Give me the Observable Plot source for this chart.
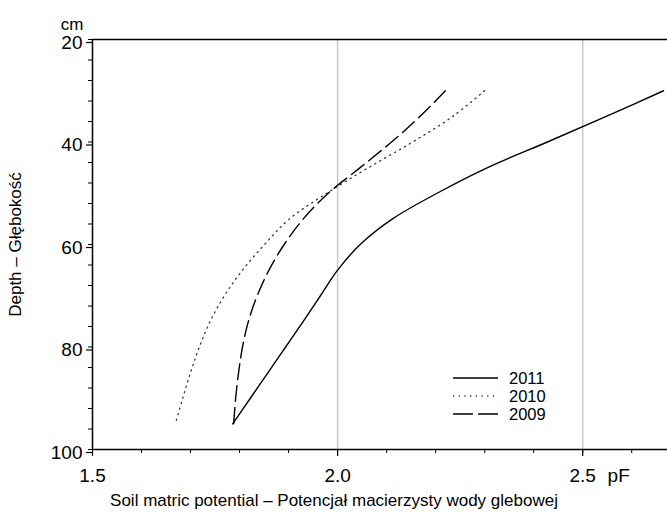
<!DOCTYPE html>
<html>
<head>
<meta charset="utf-8">
<script src="https://cdn.jsdelivr.net/npm/d3@7"></script>
<script src="https://cdn.jsdelivr.net/npm/@observablehq/plot@0.6"></script>
<style>
  html, body { margin: 0; padding: 0; background: #fff; }
  #wrap { position: relative; width: 667px; height: 517px; font-family: "Liberation Sans", Arial, sans-serif; }
  #legend { position: absolute; left: 0; top: 0; }
</style>
</head>
<body>
<div id="wrap"></div>
<script>
// Depth (cm) at which pF values were read
const depth = [30, 35, 40, 45, 50, 55, 60, 65, 70, 75, 80, 85, 90, 95];
// Soil matric potential (pF) per year
const pf2011 = [2.665, 2.548, 2.428, 2.306, 2.203, 2.112, 2.046, 2.0, 1.965, 1.93, 1.894, 1.858, 1.822, 1.786];
const pf2010 = [2.30, 2.235, 2.153, 2.063, 1.978, 1.902, 1.851, 1.806, 1.769, 1.740, 1.718, 1.70, 1.684, 1.669];
const pf2009 = [2.22, 2.168, 2.110, 2.046, 1.981, 1.930, 1.891, 1.860, 1.836, 1.818, 1.806, 1.798, 1.792, 1.788];
const years = ["2011", "2010", "2009"];
const yTicks = [20, 40, 60, 80, 100];
const xTicks = [1.5, 2.0, 2.5];
const xTitle = "Soil matric potential – Potencjał macierzysty wody glebowej";
const yTitle = "Depth – Głębokość";
const yUnit = "cm";
const xUnit = "pF";

const seriesValues = {"2011": pf2011, "2010": pf2010, "2009": pf2009};
const table = years.flatMap(yr => depth.map((d, i) => ({year: yr, depth: d, pf: seriesValues[yr][i]})));
const styles = {
  "2011": {dash: null, width: 1.4, color: "#000"},
  "2010": {dash: "1.2,4.5", width: 1.3, color: "#333"},
  "2009": {dash: "16,6", width: 1.4, color: "#000"}
};

const FS = 19, TS = 17, LS = 16.5;
const chart = Plot.plot({
  width: 667,
  height: 517,
  marginTop: 39,
  marginLeft: 92,
  marginRight: 0,
  marginBottom: 68,
  style: {fontFamily: "'Liberation Sans', Arial, sans-serif", background: "#fff", color: "#000"},
  x: {domain: [1.5, 2.673]},
  y: {domain: [20, 100], reverse: true},
  marks: [
    Plot.gridX([2.0, 2.5], {stroke: "#c8c8c8", strokeOpacity: 1, strokeWidth: 1.5}),
    Plot.ruleY([20], {stroke: "#000", strokeWidth: 1.5}),
    Plot.ruleY([100], {stroke: "#000", strokeWidth: 1.5}),
    Plot.ruleX([1.5], {stroke: "#000", strokeWidth: 1.5}),
    Plot.axisY({ticks: d3.range(20, 101, 4), tickSize: 4, text: null, label: null, strokeWidth: 1}),
    Plot.axisY({ticks: yTicks, tickSize: 6, tickPadding: 4, fontSize: FS, label: null, strokeWidth: 1.2, dy: 3}),
    Plot.axisX({ticks: d3.range(15, 27).map(d => d / 10), tickSize: 4, text: null, label: null, strokeWidth: 1}),
    Plot.axisX({ticks: xTicks, tickSize: 7, tickPadding: 12, fontSize: FS, label: null, tickFormat: d3.format(".1f"), strokeWidth: 1.2}),
    Plot.axisX({ticks: [2.5], tickSize: 0, tickPadding: 19, fontSize: FS, label: null, tickFormat: () => xUnit, dx: 36}),
    ...years.map(yr => Plot.line(table.filter(r => r.year === yr), {
      x: "pf", y: "depth", curve: "catmull-rom",
      stroke: styles[yr].color, strokeWidth: styles[yr].width,
      strokeDasharray: styles[yr].dash
    })),
    Plot.text([xTitle], {frameAnchor: "bottom", dx: -46, dy: 56, fontSize: TS, fill: "#000"}),
    Plot.text([yTitle], {frameAnchor: "left", textAnchor: "middle", rotate: -90, dx: -77, fontSize: TS, fill: "#000"}),
    Plot.text([yUnit], {frameAnchor: "top-left", dx: -9, dy: -22, textAnchor: "end", fontSize: 17, fill: "#000"})
  ]
});
const wrap = document.getElementById("wrap");
wrap.appendChild(chart);

// legend inside the plot area
const ns = "http://www.w3.org/2000/svg";
const lg = document.createElementNS(ns, "svg");
lg.setAttribute("id", "legend");
lg.setAttribute("width", 667);
lg.setAttribute("height", 517);
lg.style.pointerEvents = "none";
const lx0 = 453, lx1 = 498, ly0 = 378, lstep = 18;
years.forEach((yr, i) => {
  const y = ly0 + i * lstep;
  const ln = document.createElementNS(ns, "line");
  ln.setAttribute("x1", lx0); ln.setAttribute("x2", lx1);
  ln.setAttribute("y1", y); ln.setAttribute("y2", y);
  ln.setAttribute("stroke", styles[yr].color);
  ln.setAttribute("stroke-width", styles[yr].width);
  if (styles[yr].dash) ln.setAttribute("stroke-dasharray", yr === "2009" ? "20,5" : styles[yr].dash);
  lg.appendChild(ln);
  const tx = document.createElementNS(ns, "text");
  tx.setAttribute("x", lx1 + 11);
  tx.setAttribute("y", y);
  tx.setAttribute("dy", "0.35em");
  tx.setAttribute("font-size", LS);
  tx.setAttribute("font-family", "'Liberation Sans', Arial, sans-serif");
  tx.textContent = yr;
  lg.appendChild(tx);
});
wrap.appendChild(lg);
</script>
</body>
</html>
